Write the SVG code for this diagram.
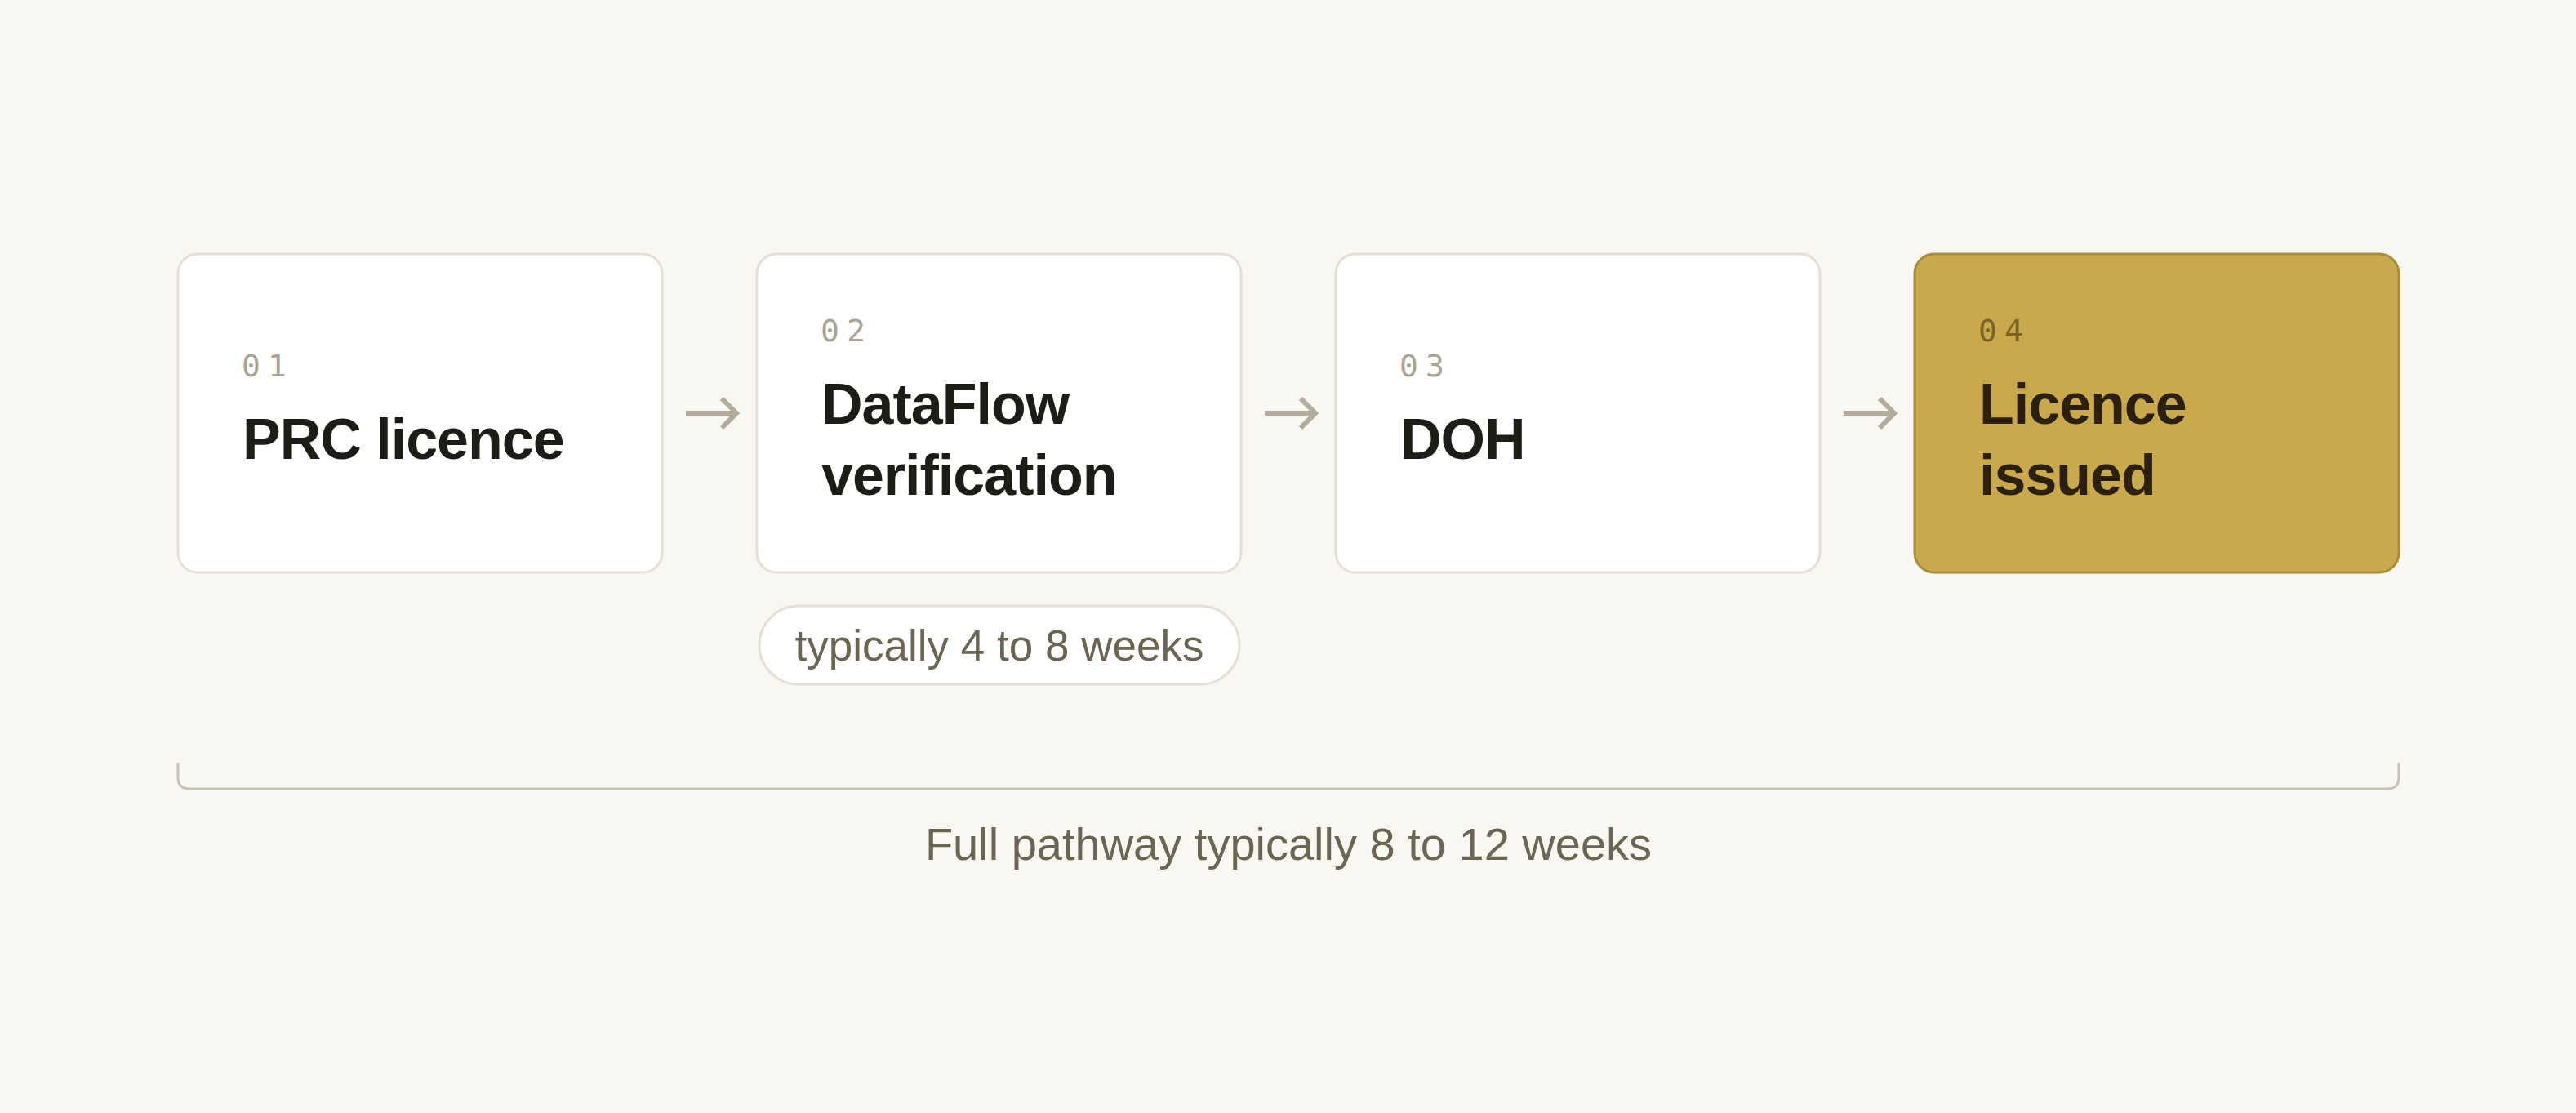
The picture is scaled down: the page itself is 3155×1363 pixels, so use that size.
<svg xmlns="http://www.w3.org/2000/svg" width="3155" height="1363" viewBox="0 0 3155 1363">
  <defs>
    <style>
      .box { fill: #ffffff; stroke: #e5e0d5; stroke-width: 3; }
      .box-gold { fill: #c9a94b; stroke: #a88e3a; stroke-width: 3; }
      .num { font-family: "DejaVu Sans Mono", "Liberation Mono", monospace; font-size: 38px; letter-spacing: 9px; fill: #a9a393; }
      .num-gold { fill: #7b6424; }
      .title { font-family: "Liberation Sans", Arial, sans-serif; font-weight: bold; font-size: 70px; letter-spacing: -1px; fill: #1e1c17; }
      .title-gold { fill: #2a200c; }
      .arrow { fill: none; stroke: #b3ac9c; stroke-width: 6; stroke-linecap: butt; stroke-linejoin: miter; }
      .pill { fill: #ffffff; stroke: #e5e0d5; stroke-width: 3; }
      .note { font-family: "Liberation Sans", Arial, sans-serif; font-size: 53px; fill: #6b6553; }
      .bracket { fill: none; stroke: #c8c2b4; stroke-width: 3; }
      .foot { font-family: "Liberation Sans", Arial, sans-serif; font-size: 56px; fill: #6b6553; }
    </style>
  </defs>
  <rect x="0" y="0" width="3155" height="1363" fill="#f9f7f2"/>

  <g id="connectors">
    <path class="arrow" d="M840 506 H902 M884 488 L902 506 L884 524"/>
    <path class="arrow" d="M1549 506 H1611 M1593 488 L1611 506 L1593 524"/>
    <path class="arrow" d="M2258 506 H2320 M2302 488 L2320 506 L2302 524"/>
  </g>

  <g id="node-01">
    <rect class="box" x="218" y="311" width="593" height="390" rx="24" ry="24"/>
    <text class="num" x="296" y="461">01</text>
    <text class="title" x="297" y="562">PRC licence</text>
  </g>

  <g id="node-02">
    <rect class="box" x="927" y="311" width="593" height="390" rx="24" ry="24"/>
    <text class="num" x="1005" y="418">02</text>
    <text class="title" x="1006" y="519">DataFlow</text>
    <text class="title" x="1006" y="606">verification</text>
  </g>

  <g id="node-03">
    <rect class="box" x="1636" y="311" width="593" height="390" rx="24" ry="24"/>
    <text class="num" x="1714" y="461">03</text>
    <text class="title" x="1715" y="562">DOH</text>
  </g>

  <g id="node-04">
    <rect class="box-gold" x="2345" y="311" width="593" height="390" rx="24" ry="24"/>
    <text class="num num-gold" x="2423" y="418">04</text>
    <text class="title title-gold" x="2424" y="519">Licence</text>
    <text class="title title-gold" x="2424" y="606">issued</text>
  </g>

  <g id="note-02">
    <rect class="pill" x="930" y="742" width="588" height="96" rx="48" ry="48"/>
    <text class="note" x="1224" y="809" text-anchor="middle">typically 4 to 8 weeks</text>
  </g>

  <g id="pathway">
    <path class="bracket" d="M218 934 V952 Q218 966 232 966 H2924 Q2938 966 2938 952 V934"/>
    <text class="foot" x="1578" y="1053" text-anchor="middle">Full pathway typically 8 to 12 weeks</text>
  </g>
</svg>
